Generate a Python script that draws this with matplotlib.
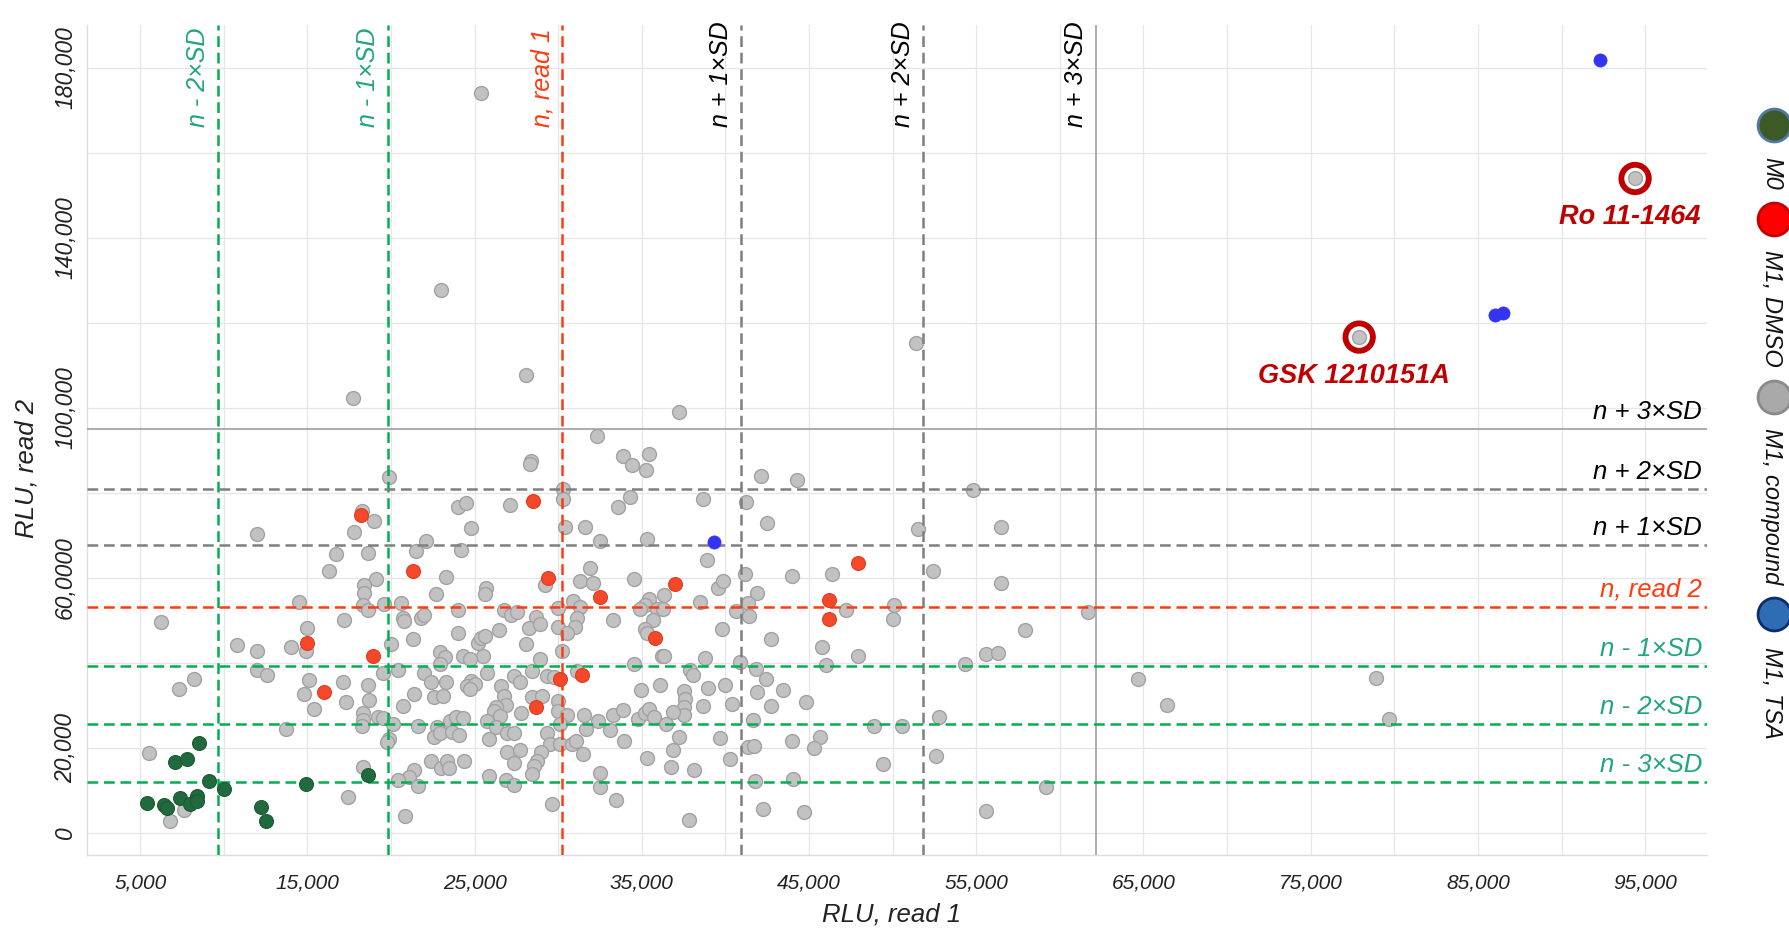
import matplotlib
matplotlib.use('Agg')
import matplotlib.pyplot as plt
from matplotlib import transforms

plt.rcParams['font.family'] = ['Liberation Sans', 'DejaVu Sans']

# M1, compound (grey)
compound_x = [12000, 16300, 6250, 14500, 15000, 10800, 12000, 14000, 14900, 12000, 12600, 8200, 7300,
              15100, 14800, 15400, 13700, 5500, 7600, 6800,
              28400, 28300, 19900, 30300, 30300, 18250, 19000, 17800, 24000, 24500, 27100, 24800, 30400,
              16700, 18600, 21500, 22100, 24200, 23300, 19100, 18400, 18400, 18300, 18600, 17200, 19600,
              20600, 20700, 20750, 21800, 21950, 22700, 24000, 25700, 25600, 29200, 31300, 26750, 27150,
              27550, 28650, 28250, 28900, 30000, 30900, 31300, 31100, 31000, 30000, 30500, 30200, 26450,
              28050, 24000, 21300, 20000, 25500, 25200, 25400, 25650, 22900, 23200, 24300, 24700, 28900,
              19500, 20400, 22000, 22900, 22400, 23300, 22600, 23100, 21400, 20700, 17100, 18600, 18700,
              17300, 18300, 18300, 18250, 19200, 19500, 20100, 19900, 19750, 21600, 22750, 22600, 22900,
              23550, 23900, 24300, 23650, 24050, 24800, 24550, 25050, 24700, 25750, 26550, 27350, 27700,
              28450, 29300, 29750, 31100, 26750, 26900, 26300, 26150, 26500, 27800, 28450, 29050, 30000,
              30000, 30500, 30100, 25750, 26250, 25850, 26950, 27350, 26950, 27700, 27350, 29300, 29500,
              30100, 30800, 31050, 28950, 28750, 28550, 28450, 22400, 23000, 23350, 23450, 24350, 21400,
              21100, 21600, 20400, 25850, 26850, 27350, 29600, 20850, 17450, 18300,
              33900, 34400, 35450, 35250, 42100, 44300, 34300, 33600, 38650, 41200, 42500, 31600, 32500,
              35300, 38900, 31900, 32100, 34550, 36300, 35450, 35200, 34900, 35900, 36250, 35650, 35200,
              35300, 33300, 36200, 36350, 38450, 39550, 39850, 39800, 38800, 41150, 41900, 41350, 40650,
              41400, 42700, 44000, 46350, 45750, 46000, 40900, 34550, 37900, 38050, 34950, 36100, 37500,
              37600, 37550, 37550, 38950, 39950, 38650, 40400, 41850, 42400, 41900, 43450, 42700, 44800,
              31550, 32400, 33300, 33900, 31650, 33100, 34800, 35200, 35400, 35700, 36450, 36850, 33950,
              37200, 39700, 41650, 41350, 41700, 44000, 45650, 45300, 31500, 35300, 36850, 36750, 38100,
              40300, 32500, 32500, 33450, 41750, 44050, 42250, 44700, 37800,
              54800, 51500, 56500, 52400, 56500, 47200, 50100, 50000, 61700, 57900, 47900, 54300, 55600,
              56300, 64700, 66400, 48900, 50550, 52750, 49400, 52600, 59200, 55600,
              78900, 79700, 25400, 23000, 28100, 37200, 32300, 17700, 51400, 94400, 77900]
compound_y = [70400, 61600, 49700, 54400, 48100, 44100, 42700, 43800, 42800, 38300, 37200, 36200, 33900,
              35900, 32600, 29200, 24400, 18700, 5500, 2900,
              87500, 86700, 83600, 80800, 78600, 75600, 73300, 70800, 76600, 77600, 77200, 71700, 72000,
              65700, 65800, 66400, 68600, 66500, 60100, 59700, 58400, 56500, 53700, 52400, 50100, 53800,
              54100, 50600, 49800, 50600, 51300, 56100, 52500, 57600, 56100, 58300, 59200, 52400, 51200,
              52000, 50800, 48300, 49100, 53000, 54500, 53100, 50600, 48400, 48400, 46900, 42800, 47600,
              44400, 46900, 45500, 44400, 41500, 44700, 45900, 46300, 42600, 41400, 41500, 40800, 41000,
              37500, 38300, 37600, 39800, 35600, 35400, 32000, 32200, 32600, 29800, 35600, 34700, 31200,
              30800, 28300, 26500, 25100, 27300, 27000, 25600, 22100, 21300, 25200, 25000, 22600, 23400,
              26200, 27300, 27000, 23700, 23100, 35800, 34600, 35000, 33800, 37500, 34600, 36900, 35400,
              38000, 36900, 36700, 38100, 32200, 30100, 29500, 28600, 27600, 28300, 31900, 32300, 30900,
              28600, 27700, 25600, 26400, 24800, 22100, 23400, 23600, 19000, 19400, 16400, 23600, 20900,
              20900, 20900, 21700, 19000, 17000, 15800, 13900, 17000, 15300, 17000, 15300, 17000, 14800,
              13100, 11000, 12500, 13300, 12500, 11300, 6900, 3900, 8400, 15500,
              88600, 86500, 89000, 85400, 83900, 83100, 79100, 76600, 78600, 77900, 72900, 71900, 68600,
              69100, 64100, 62300, 58800, 59600, 55900, 55100, 53700, 52600, 52600, 52600, 50000, 48000,
              47100, 50000, 41500, 41600, 54400, 57600, 59200, 48000, 41200, 60800, 56500, 54100, 52200,
              51000, 45500, 60500, 60900, 43600, 39500, 40300, 39800, 38300, 37100, 33700, 34700, 33300,
              31500, 29500, 27800, 34100, 34700, 29900, 30300, 38600, 36200, 33200, 33700, 29800, 30700,
              27800, 26400, 27700, 28900, 24500, 24100, 26800, 28100, 29100, 27200, 25500, 28400, 21700,
              22500, 22300, 26600, 20300, 20500, 21600, 22500, 19900, 18600, 17700, 19400, 15600, 14800,
              17300, 14100, 10800, 7700, 12100, 12700, 5600, 4900, 3000,
              80700, 71500, 71900, 61700, 58800, 52400, 53600, 50200, 51900, 47600, 41500, 39800, 42000,
              42400, 36200, 30100, 25100, 25100, 27200, 16100, 18000, 10800, 5200,
              36400, 26800, 174100, 127700, 107800, 98900, 93400, 102300, 115300, 153900, 116600]

# M1, DMSO (red)
dmso_x = [15000, 16000, 18200, 28500, 21300, 29400, 18900, 30100, 31400, 28650, 37000, 32500, 35800,
          46200, 46200, 47900]
dmso_y = [44600, 33200, 74800, 78100, 61700, 60000, 41600, 36200, 37200, 29500, 58600, 55500, 45900,
          54700, 50200, 63500]

# M0 (dark green)
m0_x = [8500, 7100, 7800, 9100, 10000, 14900, 5400, 6400, 6600, 7400, 8000, 8400, 8400, 12200, 12500, 18600]
m0_y = [21200, 16700, 17400, 12300, 10300, 11600, 7000, 6600, 5800, 8200, 6700, 8600, 7500, 6200, 2900, 13700]

# M1, TSA (blue)
tsa_x = [92300, 86000, 86500, 39300]
tsa_y = [181700, 121800, 122300, 68400]

# highlighted hits
hit_names = ['Ro 11-1464', 'GSK 1210151A']
hit_x = [94400, 77900]
hit_y = [153900, 116600]

# threshold lines, read 1 (vertical)
v_names = ['n - 2×SD', 'n - 1×SD', 'n, read 1', 'n + 1×SD', 'n + 2×SD', 'n + 3×SD']
v_values = [9660, 19815, 30250, 40920, 51810, 62180]
# threshold lines, read 2 (horizontal)
h_names = ['n + 3×SD', 'n + 2×SD', 'n + 1×SD', 'n, read 2', 'n - 1×SD', 'n - 2×SD', 'n - 3×SD']
h_values = [95100, 80800, 67600, 53200, 39300, 25500, 12000]

x_ticks = list(range(5000, 100000, 5000))
x_ticklabels = ['{:,}'.format(t) if (t // 5000) % 2 == 1 else '' for t in x_ticks]
y_ticks = list(range(0, 200000, 20000))
y_ticklabels = ['0', '20,000', '', '60,0000', '', '100,000', '', '140,000', '', '180,000']

legend_names = ['M0', 'M1, DMSO', 'M1, compound', 'M1, TSA']
legend_face = ['#3c5a26', '#ff0000', '#a9a9a9', '#2e6db4']
legend_edge = ['#4f7aa8', '#c00000', '#8a8a8a', '#0c2d6b']

GREEN_LINE = '#00b050'
GREEN_TEXT = '#1fa57f'
RED = '#ff3b10'
GREY_LINE = '#7f7f7f'


def style_for(name):
    # colour / text colour / linestyle depending on which threshold it is
    if '-' in name:
        return GREEN_LINE, GREEN_TEXT, 'dashed'
    if 'read' in name:
        return RED, RED, 'dashed'
    if '3' in name:
        return '#a6a6a6', 'black', 'solid'
    return GREY_LINE, 'black', 'dashed'


fig = plt.figure(figsize=(17.89, 9.32), dpi=100)
ax = fig.add_axes([0.04846, 0.08262, 0.90570, 0.89056])

ax.set_xlim(1800, 98700)
ax.set_ylim(-5200, 190000)

ax.set_xticks(x_ticks)
ax.set_xticklabels(x_ticklabels, fontsize=15, fontstyle='italic', color='#222222')
ax.set_yticks(y_ticks)
ax.set_yticklabels(y_ticklabels, fontsize=16.5, fontstyle='italic', color='#222222',
                   rotation=90, va='center')
ax.tick_params(axis='x', length=0, pad=13)
ax.tick_params(axis='y', length=0, pad=7)
ax.grid(True, color='#e6e6ea', linewidth=0.9)
ax.set_axisbelow(True)
for s in ['top', 'right']:
    ax.spines[s].set_visible(False)
for s in ['left', 'bottom']:
    ax.spines[s].set_color('#dcdce4')
    ax.spines[s].set_linewidth(1.0)

ax.set_xlabel('RLU, read 1', fontsize=18.5, fontstyle='italic', color='#222222')
ax.xaxis.set_label_coords(0.497, -0.057)
ax.set_ylabel('RLU, read 2', fontsize=18.5, fontstyle='italic', color='#222222')
ax.yaxis.set_label_coords(-0.030, 0.466)

# points
ax.scatter(compound_x, compound_y, s=100, c='#c2c2c2', edgecolors='#a2a2a2', linewidths=1.0, zorder=2)

for name, v in zip(v_names, v_values):
    lc, tc, ls = style_for(name)
    lw = 1.3 if ls == 'solid' else 1.8
    line = ax.axvline(v, color=lc, linewidth=lw, linestyle=ls, zorder=3)
    if ls == 'dashed':
        line.set_dashes((4.3, 2.3))
    tr = transforms.offset_copy(ax.transData, fig=fig, x=-8, y=0, units='dots')
    ax.text(v, 166000, name, transform=tr, rotation=90, ha='right', va='bottom',
            fontsize=18, fontstyle='italic', color=tc, zorder=4)

for name, h in zip(h_names, h_values):
    lc, tc, ls = style_for(name)
    lw = 1.3 if ls == 'solid' else 1.8
    line = ax.axhline(h, color=lc, linewidth=lw, linestyle=ls, zorder=3)
    if ls == 'dashed':
        line.set_dashes((4.3, 2.3))
    tr = transforms.offset_copy(ax.transData, fig=fig, x=0, y=5, units='dots')
    ax.text(98400, h, name, transform=tr, ha='right', va='bottom',
            fontsize=18.5, fontstyle='italic', color=tc, zorder=4)

ax.scatter(dmso_x, dmso_y, s=100, c='#f5482a', edgecolors='#e33a1e', linewidths=0.8, zorder=5)
ax.scatter(m0_x, m0_y, s=100, c='#206a3e', edgecolors='#1a5a34', linewidths=0.8, zorder=5)
ax.scatter(tsa_x, tsa_y, s=90, c='#3434f2', edgecolors='#3434f2', linewidths=0.5, zorder=5)

ax.scatter(hit_x, hit_y, s=390, facecolors='none', edgecolors='#c00000', linewidths=4.2, zorder=6)
for name, hx, hy in zip(hit_names, hit_x, hit_y):
    ax.annotate(name, (hx, hy), xytext=(-4, -28), textcoords='offset points',
                ha='center', va='center', fontsize=19.5, fontweight='bold', fontstyle='italic',
                color='#c00000', zorder=7)

# rotated legend on the right edge
lax = fig.add_axes([0, 0, 1, 1])
lax.set_xlim(0, 1789)
lax.set_ylim(932, 0)
lax.axis('off')
marker_y = [125, 219, 397, 614]
text_y = [157, 250, 428, 647]
for name, fc, ec, my, ty in zip(legend_names, legend_face, legend_edge, marker_y, text_y):
    lax.scatter([1774], [my], s=560, c=fc, edgecolors=ec, linewidths=2.0, clip_on=False)
    lax.text(1772, ty, name, rotation=-90, ha='center', va='top', fontsize=17,
             fontstyle='italic', color='#111111')

fig.savefig('out.png', dpi=100)
